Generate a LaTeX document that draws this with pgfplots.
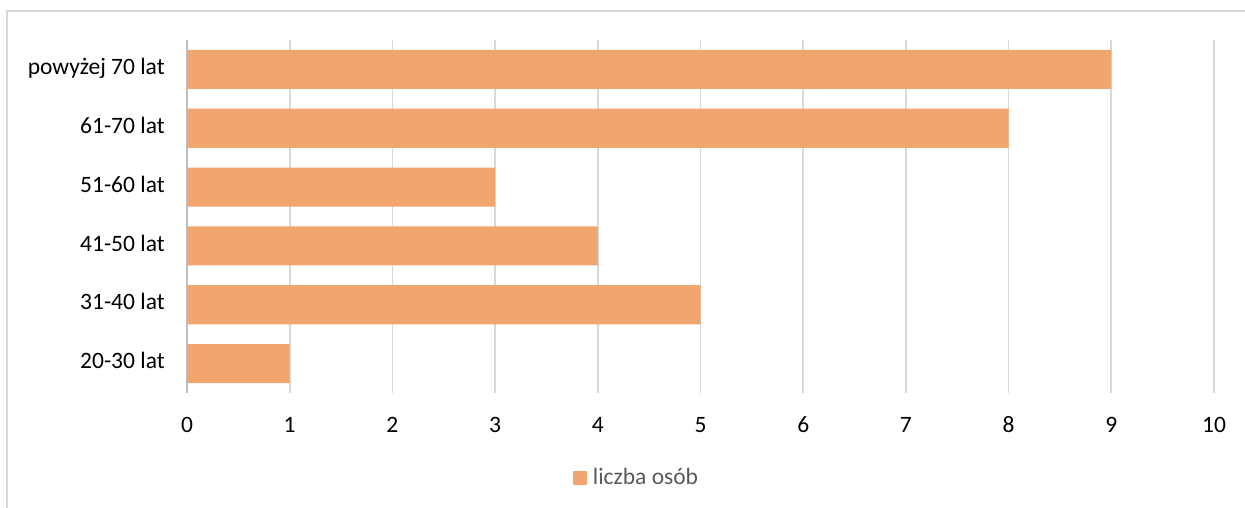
\documentclass[border=0pt]{standalone}
\usepackage{fontspec}
\setmainfont{Carlito}
\usepackage{pgfplots}
\pgfplotsset{compat=1.18}
\definecolor{barc}{RGB}{241,165,111}
\definecolor{gridc}{RGB}{217,217,217}
\definecolor{zeroc}{RGB}{191,191,191}
\definecolor{legc}{RGB}{89,89,89}
\begin{document}
\begin{tikzpicture}
\useasboundingbox (0pt,0pt) rectangle (747pt,304.8pt);
\draw[gridc, line width=0.9pt] (4.2pt,0pt) -- (4.2pt,298.2pt) -- (747pt,298.2pt);
\begin{axis}[
  at={(112.2pt,69pt)}, anchor=south west,
  scale only axis, width=616.2pt, height=211.8pt,
  xbar, bar width=0.663,
  xmin=0, xmax=10, ymin=-0.5, ymax=5.5,
  xtick={0,...,10},
  ytick={0,...,5},
  yticklabels={20-30 lat,31-40 lat,41-50 lat,51-60 lat,61-70 lat,powyżej 70 lat},
  axis line style={draw=none},
  major tick length=0pt,
  xmajorgrids, ymajorgrids=false,
  major grid style={gridc, line width=1pt},
  extra x ticks={0}, extra x tick labels={},
  extra x tick style={major grid style={zeroc, line width=1pt}},
  /pgf/number format/assume math mode=true,
  ticklabel style={font=\fontsize{14.1pt}{17pt}\selectfont, text=black},
  xticklabel style={anchor=center, yshift=-19.2pt},
  yticklabel style={anchor=east, inner sep=0pt, xshift=-13.2pt, text height=0.63em, text depth=0pt},
  legend style={at={(0.4367,-0.2408)}, anchor=center, draw=none, fill=none,
    font=\fontsize{14.1pt}{17pt}\selectfont, text=legc,
    nodes={inner sep=0pt}, /tikz/every odd column/.style={column sep=3.6pt}},
  legend image code/.code={\fill[barc] (0pt,-4.2pt) rectangle (8.4pt,4.2pt);},
]
\addplot[fill=barc, draw=none] coordinates {(1,0) (5,1) (4,2) (3,3) (8,4) (9,5)};
\addlegendentry{liczba osób}
\end{axis}
\end{tikzpicture}
\end{document}
